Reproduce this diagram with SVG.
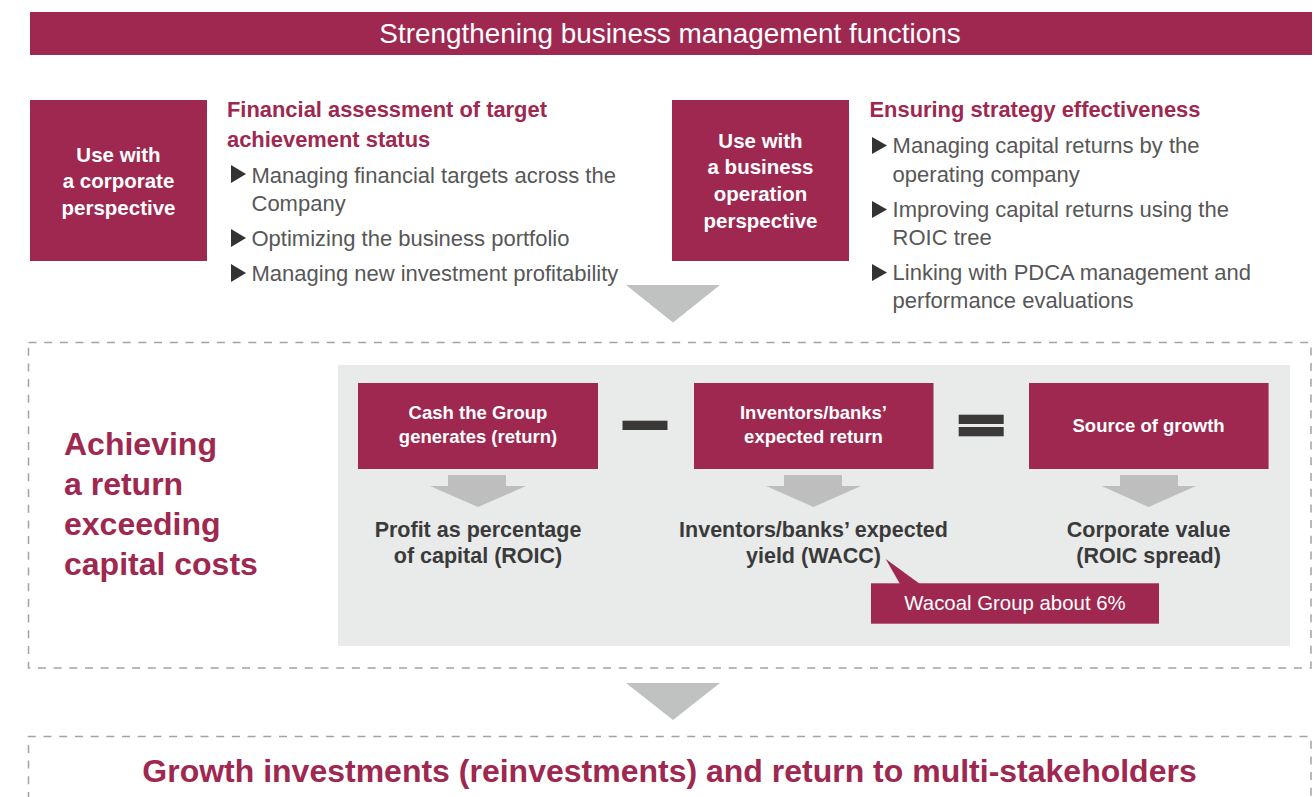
<svg xmlns="http://www.w3.org/2000/svg" width="1316" height="797" viewBox="0 0 1316 797">
  <style>
    .maroon { fill: #9e2850; }
    .panel { fill: #e9eaea; }
    .dash { fill: none; stroke: #a3a3a3; stroke-width: 1.5; stroke-dasharray: 8 7.7; }
    .bigarrow { fill: #c0c1c1; }
    .smallarrow { fill: #bdbebd; }
    .bar { fill: #3b3838; }
    .bullet { fill: #333333; }
    text { font-family: "Liberation Sans", Arial, sans-serif; }
    .title { fill: #ffffff; font-size: 27.9px; }
    .boxtxt { fill: #ffffff; font-size: 20.5px; font-weight: bold; text-anchor: middle; }
    .head { fill: #9e2850; font-size: 21.9px; font-weight: bold; }
    .item { fill: #575757; font-size: 22px; }
    .eqbox { fill: #ffffff; font-size: 18.5px; font-weight: bold; text-anchor: middle; }
    .result { fill: #3a3a3a; font-size: 21.5px; font-weight: bold; text-anchor: middle; }
    .big { fill: #9e2850; font-size: 32px; font-weight: bold; }
    .note { fill: #ffffff; font-size: 20.4px; text-anchor: middle; }
  </style>

  <!-- Banner -->
  <g id="banner">
    <rect class="maroon" x="30" y="12" width="1282" height="43"/>
    <text class="title" x="670" y="42.5" text-anchor="middle">Strengthening business management functions</text>
  </g>

  <!-- Corporate perspective -->
  <g id="corporate">
    <rect class="maroon" x="30" y="100" width="177" height="161"/>
    <text class="boxtxt" x="118.5" y="161.5">Use with</text>
    <text class="boxtxt" x="118.5" y="188.3">a corporate</text>
    <text class="boxtxt" x="118.5" y="215">perspective</text>
  </g>

  <g id="corporate-points">
    <text class="head" x="227" y="116.7">Financial assessment of target</text>
    <text class="head" x="227" y="146.7">achievement status</text>
    <polygon class="bullet" points="231,165 246,174 231,183"/>
    <text class="item" x="251.5" y="182.7">Managing financial targets across the</text>
    <text class="item" x="251.5" y="211">Company</text>
    <polygon class="bullet" points="231,229 246,238 231,247"/>
    <text class="item" x="251.5" y="246">Optimizing the business portfolio</text>
    <polygon class="bullet" points="231,264 246,273 231,282"/>
    <text class="item" x="251.5" y="281">Managing new investment profitability</text>
  </g>

  <!-- Business operation perspective -->
  <g id="operation">
    <rect class="maroon" x="672" y="100" width="177" height="161"/>
    <text class="boxtxt" x="760.5" y="147.7">Use with</text>
    <text class="boxtxt" x="760.5" y="174.3">a business</text>
    <text class="boxtxt" x="760.5" y="201.3">operation</text>
    <text class="boxtxt" x="760.5" y="228">perspective</text>
  </g>

  <g id="operation-points">
    <text class="head" x="869.5" y="116.7">Ensuring strategy effectiveness</text>
    <polygon class="bullet" points="872,137 887,145.5 872,154"/>
    <text class="item" x="892.6" y="153.3">Managing capital returns by the</text>
    <text class="item" x="892.6" y="181.7">operating company</text>
    <polygon class="bullet" points="872,201 887,209.5 872,218"/>
    <text class="item" x="892.6" y="217.3">Improving capital returns using the</text>
    <text class="item" x="892.6" y="245">ROIC tree</text>
    <polygon class="bullet" points="872,264 887,272.5 872,281"/>
    <text class="item" x="892.6" y="280">Linking with PDCA management and</text>
    <text class="item" x="892.6" y="308.3">performance evaluations</text>
  </g>

  <!-- Return vs capital cost section -->
  <g id="return-section">
    <rect class="dash" x="28.5" y="342.5" width="1282.5" height="325.5"/>
    <text class="big" x="64" y="455">Achieving</text>
    <text class="big" x="64" y="495">a return</text>
    <text class="big" x="64" y="534.5">exceeding</text>
    <text class="big" x="64" y="575">capital costs</text>
    <rect class="panel" x="338" y="365" width="952" height="281"/>
  </g>

  <g id="cash">
    <rect class="maroon" x="358" y="383" width="240" height="86"/>
    <text class="eqbox" x="478" y="419.3">Cash the Group</text>
    <text class="eqbox" x="478" y="443.3">generates (return)</text>
    <text class="result" x="478" y="536.7">Profit as percentage</text>
    <text class="result" x="478" y="563.3">of capital (ROIC)</text>
  </g>

  <g id="minus">
    <rect class="bar" x="622.5" y="420.7" width="45" height="9.3"/>
  </g>

  <g id="expected">
    <rect class="maroon" x="694" y="383" width="239.5" height="86"/>
    <text class="eqbox" x="813.5" y="419.3">Inventors/banks’</text>
    <text class="eqbox" x="813.5" y="443.3">expected return</text>
    <text class="result" x="813.5" y="536.7">Inventors/banks’ expected</text>
    <text class="result" x="813.5" y="563.3">yield (WACC)</text>
  </g>

  <g id="equals">
    <rect class="bar" x="958.7" y="414.7" width="45" height="9.3"/>
    <rect class="bar" x="958.7" y="427" width="45" height="9.3"/>
  </g>

  <g id="growth">
    <rect class="maroon" x="1029" y="383" width="239.6" height="86"/>
    <text class="eqbox" x="1148.6" y="431.7">Source of growth</text>
    <text class="result" x="1148.6" y="536.7">Corporate value</text>
    <text class="result" x="1148.6" y="563.3">(ROIC spread)</text>
  </g>

  <g id="wacc-note">
    <polygon class="maroon" points="885.7,559 900,584 920,584"/>
    <rect class="maroon" x="871" y="583.3" width="288" height="40.4"/>
    <text class="note" x="1015" y="610">Wacoal Group about 6%</text>
  </g>

  <!-- Outcome -->
  <g id="outcome">
    <path class="dash" d="M28.5,800 V736.5 H1311 V800"/>
    <text class="big" x="669.5" y="781.7" text-anchor="middle">Growth investments (reinvestments) and return to multi-stakeholders</text>
  </g>

  <!-- Flow arrows -->
  <g id="connectors">
    <polygon class="bigarrow" points="626,285 720,285 673,322.5"/>
    <polygon class="bigarrow" points="626,683 720,683 673,720"/>
    <polygon class="smallarrow" points="448,475 506,475 506,486 526,486 478,507 430,486 448,486"/>
    <polygon class="smallarrow" points="784,475 842,475 842,486 861,486 813.5,507 766,486 784,486"/>
    <polygon class="smallarrow" points="1120,475 1178,475 1178,486 1196,486 1148.6,507 1101.5,486 1120,486"/>
  </g>
</svg>
